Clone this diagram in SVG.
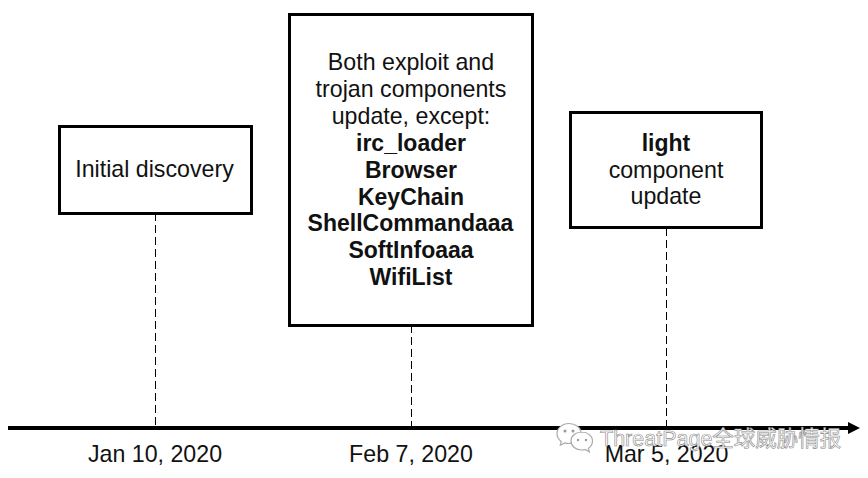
<svg xmlns="http://www.w3.org/2000/svg" width="868" height="478" viewBox="0 0 868 478">
<defs>
<style>
text{font-family:"Liberation Sans",Arial,sans-serif;font-size:23.2px;fill:#111;text-anchor:middle}
.b{font-weight:bold;font-size:23px}
.box{fill:#fff;stroke:#000;stroke-width:3}
.dash{stroke:#000;stroke-width:1;stroke-dasharray:8 4;fill:none}
.axis{stroke:#000;stroke-width:4;fill:none}
.wm{font-family:"Liberation Sans","Noto Sans CJK SC",sans-serif;font-size:21.5px;fill:#fff;stroke:#888;stroke-width:.6;text-anchor:start}
.wc{fill:#fff;stroke:#aaa;stroke-width:1.2}
.we{fill:#999}
</style>
</defs>
<rect width="868" height="478" fill="#fff"/>
<g id="connectors">
<line class="dash" x1="155.500" y1="213" x2="155.500" y2="426"/>
<line class="dash" x1="411.500" y1="325" x2="411.500" y2="426"/>
<line class="dash" x1="666.500" y1="228" x2="666.500" y2="426"/>
<line class="axis" x1="8" y1="428" x2="850" y2="428"/>
<polygon points="848,422 860,428 848,434" fill="#000"/>
</g>
<g id="node-initial">
<rect class="box" x="59.500" y="126.500" width="192" height="87"/>
<text x="154.500" y="177">Initial discovery</text>
</g>
<g id="node-both">
<rect class="box" x="289.500" y="14.500" width="243" height="311"/>
<text x="411" y="70">Both exploit and</text>
<text x="411" y="97">trojan components</text>
<text x="411" y="124">update, except:</text>
<text class="b" x="411" y="151">irc_loader</text>
<text class="b" x="411" y="178">Browser</text>
<text class="b" x="411" y="205">KeyChain</text>
<text class="b" x="410.500" y="231">ShellCommandaaa</text>
<text class="b" x="411" y="258">SoftInfoaaa</text>
<text class="b" x="411" y="285">WifiList</text>
</g>
<g id="node-light">
<rect class="box" x="570.500" y="112.500" width="191" height="115"/>
<text class="b" x="666" y="151">light</text>
<text x="666" y="178">component</text>
<text x="666" y="204">update</text>
</g>
<g id="dates">
<text x="155" y="462">Jan 10, 2020</text>
<text x="411" y="462">Feb 7, 2020</text>
<text x="666.500" y="462">Mar 5, 2020</text>
</g>
<g id="watermark">
<path class="wc" d="M569 423.500c-7 0-12 4.800-12 10.300 0 3.200 1.700 5.800 4.300 7.700l-1 3.700 4.500-2.300c1.500.4 2.800.6 4.200.6 6.600 0 12-4.600 12-10.200s-5.400-9.800-12-9.800z"/>
<path class="wc" d="M582 432c-6.200 0-11 3.900-11 9s4.800 9 11 9c1.200 0 2.400-.2 3.500-.5l3.800 2.400-.9-3.600c2.500-1.600 4.100-4.200 4.100-7.300 0-5.100-4.800-9-10.500-9z"/>
<circle class="we" cx="565" cy="431" r="1.500"/>
<circle class="we" cx="573" cy="431" r="1.500"/>
<circle class="we" cx="578" cy="440" r="1.200"/>
<circle class="we" cx="586" cy="440" r="1.200"/>
<text class="wm" x="600" y="446">ThreatPage全球威胁情报</text>
</g>
</svg>
